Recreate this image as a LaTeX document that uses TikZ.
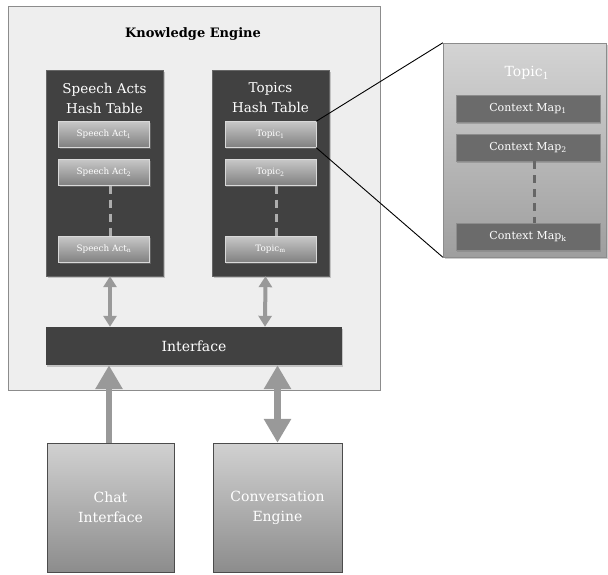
\documentclass[tikz,border=0pt]{standalone}
\usepackage{fontspec}
\setmainfont{DejaVu Serif}
\usetikzlibrary{arrows.meta,shadows}
\definecolor{kebg}{HTML}{EEEEEE}
\definecolor{keline}{HTML}{8C8C8C}
\definecolor{tabledark}{HTML}{414141}
\definecolor{arrowgray}{HTML}{999999}
\definecolor{mapdark}{HTML}{6B6B6B}
\tikzset{
  tablebox/.style={fill=tabledark, draw=black!60, inner sep=0pt, minimum width=117pt, minimum height=206pt,
    drop shadow={shadow xshift=1.5pt, shadow yshift=-1.5pt, opacity=0.4}},
  entry/.style={top color=black!22, bottom color=black!50, draw=black!15, inner sep=0pt,
    minimum width=91pt, minimum height=26pt, text=white, font=\fontsize{8.8}{10}\selectfont,
    drop shadow={shadow xshift=1pt, shadow yshift=-1pt, opacity=0.5}},
  graybox/.style={top color=black!18, bottom color=black!45, draw=black!70, inner sep=0pt,
    text=white, font=\fontsize{14}{20}\selectfont, align=center},
  mapbox/.style={fill=mapdark, draw=black!45, inner sep=0pt, minimum width=144pt, minimum height=27pt,
    text=white, font=\fontsize{11}{12}\selectfont,
    drop shadow={shadow xshift=1pt, shadow yshift=-1.5pt, opacity=0.5}},
  dots/.style={arrowgray!80!white, line width=3pt, dash pattern=on 8pt off 6pt},
  link/.style={arrowgray, line width=4pt, {Triangle[width=13pt,length=11pt]}-{Triangle[width=13pt,length=11pt]}},
  biglink/.style={arrowgray, line width=6.5pt}
}
\begin{document}
\begin{tikzpicture}[x=1pt, y=-1pt]
\useasboundingbox (0,0) rectangle (608,574);
% knowledge engine
\node[fill=kebg, draw=keline, minimum width=372pt, minimum height=384pt, inner sep=0pt] (engine) at (194,198) {};
\node[font=\fontsize{13}{15}\selectfont\bfseries] (title) at (193,34) {Knowledge Engine};

% hash tables
\node[tablebox] (speechtab) at (104.5,173) {};
\node[tablebox] (topictab) at (270.5,173) {};
\node[text=white, align=center, font=\fontsize{13.5}{20}\selectfont] (speechhead) at (104.5,98) {Speech Acts\\Hash Table};
\node[text=white, align=center, font=\fontsize{13.5}{20}\selectfont] (topichead) at (270.5,98) {Topics\\Hash Table};

\node[entry] (act1) at (104,134.5) {Speech Act\textsubscript{1}};
\node[entry] (act2) at (104,172.5) {Speech Act\textsubscript{2}};
\node[entry] (actn) at (104,249.5) {Speech Act\textsubscript{n}};
\node[entry] (topic1) at (270.5,134.5) {Topic\textsubscript{1}};
\node[entry] (topic2) at (270.5,172.5) {Topic\textsubscript{2}};
\node[entry] (topicm) at (270.5,249.5) {Topic\textsubscript{m}};
\draw[dots] ([xshift=6pt]act2.south) -- ([xshift=6pt]actn.north);
\draw[dots] ([xshift=6pt]topic2.south) -- ([xshift=6pt]topicm.north);

% interface
\node[fill=tabledark, inner sep=0pt, minimum width=296pt, minimum height=38pt, text=white,
  font=\fontsize{14}{16}\selectfont, drop shadow={shadow xshift=1pt, shadow yshift=-1.5pt, opacity=0.4}] (iface) at (194,346) {Interface};
\draw[link] ([xshift=5.5pt]speechtab.south) -- ([xshift=-84pt]iface.north);
\draw[link] ([xshift=-5pt]topictab.south) -- ([xshift=71pt]iface.north);

% outside modules
\node[graybox, minimum width=127pt, minimum height=129pt] (chat) at (110.5,507.5) {Chat\\Interface};
\node[graybox, minimum width=129pt, minimum height=129pt] (conv) at (277.5,507.5) {Conversation\\Engine};
\draw[biglink, -{Triangle[width=26pt,length=24pt]}] ([xshift=-1.5pt]chat.north) -- ([xshift=-85pt]iface.south);
\draw[biglink, {Triangle[width=26pt,length=24pt]}-{Triangle[width=26pt,length=24pt]}] (conv.north) -- ([xshift=83.5pt]iface.south);

% topic detail
\node[top color=black!17, bottom color=black!38, draw=black!45, inner sep=0pt, minimum width=163pt, minimum height=214pt,
  drop shadow={shadow xshift=1.5pt, shadow yshift=-1.5pt, opacity=0.4}] (detail) at (524.5,150) {};
\node[text=white, font=\fontsize{14}{16}\selectfont] (detailhead) at (527,73) {Topic\textsubscript{1}};
\node[mapbox] (map1) at (528,108.5) {Context Map\textsubscript{1}};
\node[mapbox] (map2) at (528,147.5) {Context Map\textsubscript{2}};
\node[mapbox] (mapk) at (528,236.5) {Context Map\textsubscript{k}};
\draw[dots, black!60] ([xshift=6pt]map2.south) -- ([xshift=6pt]mapk.north);
\draw[black, line width=0.9pt] (topic1.north east) -- (detail.north west);
\draw[black, line width=0.9pt] (topic1.south east) -- (detail.south west);
\end{tikzpicture}
\end{document}
